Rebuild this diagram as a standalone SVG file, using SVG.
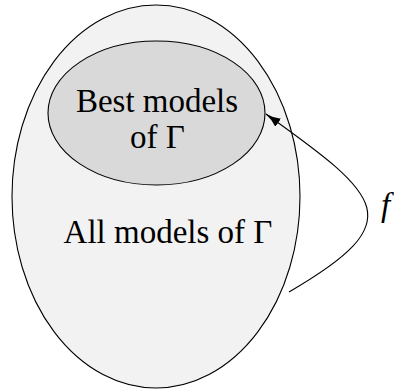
<svg xmlns="http://www.w3.org/2000/svg" width="394" height="392" viewBox="0 0 394 392">
<style>
.lbl{font-family:'Liberation Serif','Times New Roman',serif;font-size:33px;fill:#000;text-anchor:middle}
.ell{stroke:#000;stroke-width:1.1}
</style>
<defs>
<marker id="arr" viewBox="0 0 16 10" refX="15" refY="5" markerWidth="16" markerHeight="10" markerUnits="userSpaceOnUse" orient="auto">
<path d="M0,0 Q7,4 16,5 Q7,6 0,10 Z" fill="#000"/>
</marker>
</defs>
<rect width="394" height="392" fill="#fff"/>
<g id="all-models">
<ellipse class="ell" cx="156" cy="196.5" rx="144" ry="191.5" fill="#f2f2f2"/>
<text class="lbl" x="168" y="243" font-family="Liberation Serif">All models of Γ</text>
</g>
<g id="best-models">
<ellipse class="ell" cx="156.5" cy="113" rx="108.5" ry="72" fill="#d9d9d9"/>
<text class="lbl" x="157" y="112" font-family="Liberation Serif">Best models</text>
<text class="lbl" x="157.5" y="148" font-family="Liberation Serif">of Γ</text>
</g>
<g id="connectors">
<path d="M289,292 C411,221 382,197 266,114" fill="none" stroke="#000" stroke-width="1.1" marker-end="url(#arr)"/>
<text x="381" y="216" font-family="Liberation Serif" font-style="italic" font-size="33">f</text>
</g>
</svg>
